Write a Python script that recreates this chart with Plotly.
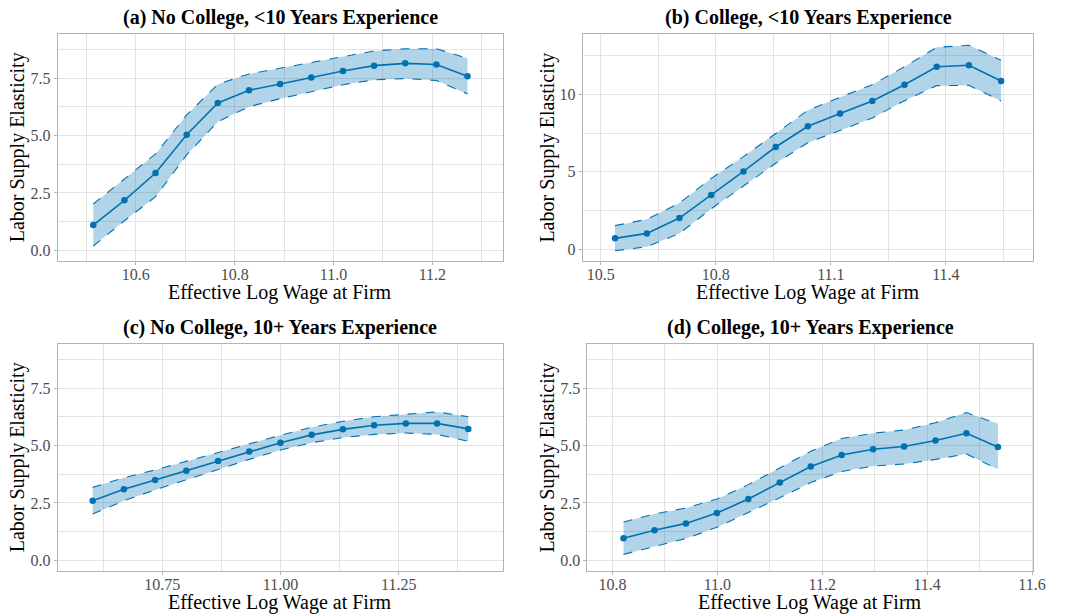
import plotly.graph_objects as go

# ---------------- data ----------------
titles = [
    "(a) No College, <10 Years Experience",
    "(b) College, <10 Years Experience",
    "(c) No College, 10+ Years Experience",
    "(d) College, 10+ Years Experience",
]

wage_a = [10.514, 10.577, 10.640, 10.703, 10.766, 10.829, 10.892, 10.955, 11.019, 11.082, 11.145, 11.208, 11.271]
est_a = [1.10, 2.18, 3.37, 5.04, 6.42, 6.98, 7.25, 7.53, 7.82, 8.05, 8.15, 8.10, 7.59]
hi_a = [2.02, 3.11, 4.20, 5.90, 7.24, 7.69, 7.94, 8.18, 8.44, 8.69, 8.79, 8.79, 8.37]
lo_a = [0.19, 1.29, 2.34, 4.16, 5.61, 6.26, 6.61, 6.92, 7.22, 7.43, 7.49, 7.40, 6.82]

wage_b = [10.537, 10.620, 10.705, 10.788, 10.872, 10.956, 11.040, 11.124, 11.208, 11.292, 11.376, 11.460, 11.544]
est_b = [0.71, 1.03, 2.02, 3.51, 5.03, 6.60, 7.94, 8.77, 9.57, 10.62, 11.78, 11.87, 10.86]
hi_b = [1.53, 1.94, 2.99, 4.58, 5.98, 7.48, 8.97, 9.81, 10.62, 11.78, 13.03, 13.16, 12.19]
lo_b = [-0.09, 0.17, 1.03, 2.62, 4.09, 5.55, 6.88, 7.66, 8.47, 9.59, 10.56, 10.58, 9.57]

wage_c = [10.603, 10.669, 10.735, 10.801, 10.868, 10.934, 11.000, 11.066, 11.132, 11.198, 11.265, 11.331, 11.397]
est_c = [2.60, 3.10, 3.50, 3.91, 4.33, 4.74, 5.13, 5.47, 5.71, 5.89, 5.97, 5.97, 5.73]
hi_c = [3.18, 3.60, 3.94, 4.32, 4.72, 5.10, 5.45, 5.80, 6.06, 6.26, 6.38, 6.47, 6.26]
lo_c = [2.02, 2.60, 3.07, 3.52, 3.97, 4.40, 4.81, 5.13, 5.35, 5.49, 5.55, 5.49, 5.19]

wage_d = [10.821, 10.880, 10.940, 10.999, 11.059, 11.119, 11.178, 11.237, 11.297, 11.356, 11.416, 11.475, 11.535]
est_d = [0.96, 1.31, 1.61, 2.06, 2.67, 3.39, 4.09, 4.59, 4.84, 4.96, 5.22, 5.54, 4.94]
hi_d = [1.67, 2.02, 2.28, 2.67, 3.30, 4.03, 4.75, 5.31, 5.54, 5.68, 6.00, 6.44, 5.95]
lo_d = [0.26, 0.60, 0.95, 1.44, 2.08, 2.73, 3.39, 3.87, 4.11, 4.20, 4.40, 4.64, 3.97]

x_label = "Effective Log Wage at Firm"
y_label = "Labor Supply Elasticity"

# ---------------- style / layout ----------------
W, H = 1073, 616
LINE = "#0072B2"
FILL = "rgba(0,114,178,0.30)"
FONT = "Liberation Serif"
GRID = "#e3e3e3"
BORDER = "#b3b3b3"

panels = [
    dict(x=wage_a, y=est_a, hi=hi_a, lo=lo_a,
         px=(58.3, 508.3), py=(34, 261), ytx=18,
         xr=[10.442, 11.342], yr=[-0.465, 9.43], x0=10.0,
         xt=0.2, xm=0.1, xfmt=".1f", yt=2.5, ym=1.25, yfmt=".1f"),
    dict(x=wage_b, y=est_b, hi=hi_b, lo=lo_b,
         px=(589.3, 1045), py=(34, 261), ytx=553.3,
         xr=[10.4527, 11.628], yr=[-0.75, 13.89], x0=10.5,
         xt=0.3, xm=0.15, xfmt=".1f", yt=5, ym=2.5, yfmt="d"),
    dict(x=wage_c, y=est_c, hi=hi_c, lo=lo_c,
         px=(58.3, 508.3), py=(344, 571), ytx=18,
         xr=[10.529, 11.4696], yr=[-0.465, 9.43], x0=10.0,
         xt=0.25, xm=0.125, xfmt=".2f", yt=2.5, ym=1.25, yfmt=".1f"),
    dict(x=wage_d, y=est_d, hi=hi_d, lo=lo_d,
         px=(594, 1045), py=(344, 571), ytx=553.3,
         xr=[10.752, 11.6025], yr=[-0.465, 9.43], x0=10.0,
         xt=0.2, xm=0.1, xfmt=".1f", yt=2.5, ym=1.25, yfmt=".1f"),
]

fig = go.Figure()
annotations = []

for i, p in enumerate(panels):
    n = "" if i == 0 else str(i + 1)
    xa, ya = "x" + n, "y" + n
    # ribbon
    fig.add_trace(go.Scatter(x=p["x"], y=p["lo"], mode="lines",
                             line=dict(color=LINE, width=1.1, dash="dash"),
                             xaxis=xa, yaxis=ya, showlegend=False, hoverinfo="skip"))
    fig.add_trace(go.Scatter(x=p["x"], y=p["hi"], mode="lines", fill="tonexty",
                             fillcolor=FILL,
                             line=dict(color=LINE, width=1.1, dash="dash"),
                             xaxis=xa, yaxis=ya, showlegend=False, hoverinfo="skip"))
    # estimate
    fig.add_trace(go.Scatter(x=p["x"], y=p["y"], mode="lines+markers",
                             line=dict(color=LINE, width=1.6),
                             marker=dict(color=LINE, size=6.5),
                             xaxis=xa, yaxis=ya, showlegend=False))

    x0, x1 = p["px"][0] / W, p["px"][1] / W
    y0, y1 = 1 - p["py"][1] / H, 1 - p["py"][0] / H
    common = dict(showgrid=True, gridcolor=GRID, gridwidth=1,
                  showline=True, mirror=True, linecolor=BORDER, linewidth=1,
                  ticks="outside", ticklen=3, tickcolor=BORDER, tickwidth=1,
                  tickfont=dict(family=FONT, size=16, color="#4d4d4d"),
                  zeroline=False, fixedrange=True)
    fig.update_layout(**{
        "xaxis" + n: dict(domain=[x0, x1], range=p["xr"], anchor=ya,
                          tick0=p["x0"], dtick=p["xt"], tickformat=p["xfmt"],
                          ticklabelstandoff=-4,
                          minor=dict(showgrid=True, gridcolor=GRID, gridwidth=1,
                                     dtick=p["xm"], tick0=p["x0"], ticks=""),
                          **common),
        "yaxis" + n: dict(domain=[y0, y1], range=p["yr"], anchor=xa,
                          tick0=0, dtick=p["yt"], tickformat=p["yfmt"],
                          minor=dict(showgrid=True, gridcolor=GRID, gridwidth=1,
                                     dtick=p["ym"], tick0=0, ticks=""),
                          **common),
    })

    cx = (p["px"][0] + p["px"][1]) / 2 / W
    cy = 1 - (p["py"][0] + p["py"][1]) / 2 / H
    # panel title
    annotations.append(dict(text="<b>" + titles[i] + "</b>", x=cx, xref="paper",
                            y=1 - (p["py"][0] - 17) / H, yref="paper",
                            xanchor="center", yanchor="middle", showarrow=False,
                            font=dict(family=FONT, size=20, color="black")))
    # x title
    annotations.append(dict(text=x_label, x=cx, xref="paper",
                            y=1 - (p["py"][1] + 31.7) / H, yref="paper",
                            xanchor="center", yanchor="middle", showarrow=False,
                            font=dict(family=FONT, size=20, color="black")))
    # y title
    annotations.append(dict(text=y_label, x=p["ytx"] / W,
                            xref="paper", y=cy, yref="paper",
                            xanchor="center", yanchor="middle", showarrow=False,
                            textangle=-90,
                            font=dict(family=FONT, size=20, color="black")))

fig.update_layout(width=W, height=H, margin=dict(l=0, r=0, t=0, b=0),
                  plot_bgcolor="white", paper_bgcolor="white",
                  font=dict(family=FONT),
                  annotations=annotations, showlegend=False)

fig.write_html("out.html")
